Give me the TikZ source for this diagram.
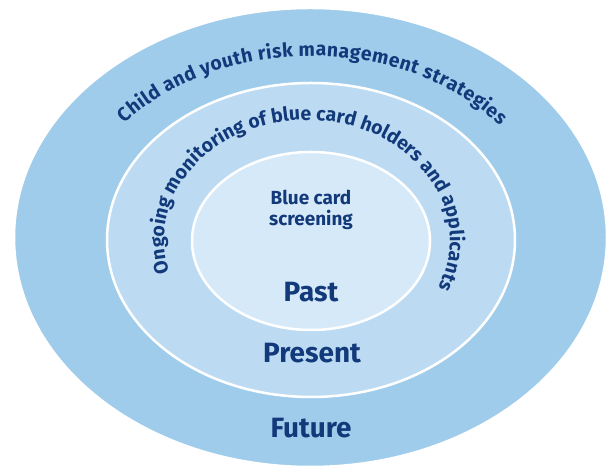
\documentclass[tikz,border=0pt]{standalone}
\usepackage{fontspec}
\setmainfont{Fira Sans}
\usepackage{tikz}
\usetikzlibrary{calc}
\usetikzlibrary{decorations.text}

\definecolor{futfill}{HTML}{A0CCEC}
\definecolor{presfill}{HTML}{BCDBF3}
\definecolor{pastfill}{HTML}{D6E9F8}
\definecolor{navy}{HTML}{12397A}

\newcommand{\curvefont}{\bfseries\fontsize{19.5}{22}\selectfont}

\begin{document}
\begin{tikzpicture}[x=1bp,y=1bp,
		ring/.style={fill=#1,draw=white,line width=2.5bp},
		lbl/.style={text=navy,inner sep=0pt,font=\bfseries\fontsize{28}{30}\selectfont}]
			\fill[white] (0,0) rectangle (609,468);
			\useasboundingbox (0,0) rectangle (609,468);
			
			% rings
			
			\foreach \cx/\cy/\rx/\ry/\col in {310.5/230.5/296.5/229.5/futfill,311/228/204/157/presfill,311/227/119/89/pastfill} {
				\filldraw[ring=\col] (\cx,\cy) ellipse [x radius=\rx bp, y radius=\ry bp];
			}
			
			% curved texts
			
			\coordinate (O1) at (311,230);
			\coordinate (O2) at (307,228);
			\path[decorate,decoration={text along path,text color=navy,text align=fit to path,
				text={|\curvefont|Child and youth risk management strategies}}]
				($(O1)+(141:240bp and 182bp)$) arc[start angle=141,end angle=38,x radius=240bp,y radius=182bp];
			\path[decorate,decoration={text along path,text color=navy,text align=fit to path,
				text={|\curvefont|Ongoing monitoring of blue card holders and applicants}}]
				($(O2)+(195.5:143bp and 120bp)$) arc[start angle=195.5,end angle=-23,x radius=143bp,y radius=120bp];
			
			% labels
			
			\node[lbl,anchor=north,align=center,font=\bfseries\fontsize{19}{21}\selectfont] (scr) at (311,278) {Blue card\\screening};
			\node[lbl] (past) at (311,175.5) {Past};
			\node[lbl] (pres) at (312,115) {Present};
			\node[lbl] (fut) at (311,40) {Future};
		\end{tikzpicture}
\end{document}
